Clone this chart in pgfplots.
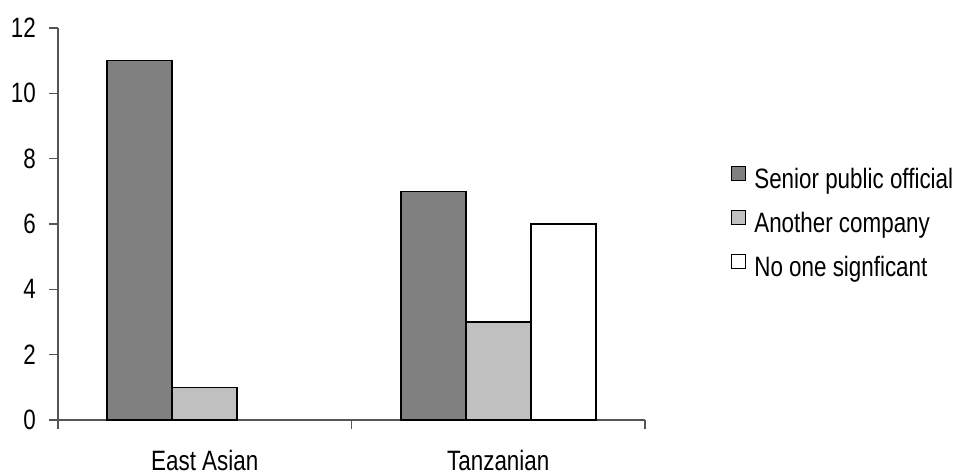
\documentclass[border=0pt]{standalone}
\usepackage{pgfplots}
\pgfplotsset{compat=1.18}
\usepackage{fontspec}
\setmainfont[FakeStretch=0.8]{Liberation Sans}
\definecolor{darkbar}{HTML}{808080}
\definecolor{lightbar}{HTML}{C0C0C0}
\definecolor{axisgray}{HTML}{555555}
\begin{document}
\fontsize{21pt}{24pt}\selectfont
\begin{tikzpicture}
\path[use as bounding box] (0,0) rectangle (720pt,356.25pt);
\begin{axis}[
  at={(43.5pt,41.25pt)}, anchor=south west,
  scale only axis,
  width=440.25pt, height=294pt,
  xmin=-0.5, xmax=1.5, ymin=0, ymax=12,
  axis x line*=bottom, axis y line*=left,
  axis line style={-, draw=axisgray, line width=0.8pt},
  every tick/.style={draw=axisgray, line width=0.8pt},
  tick align=outside,
  major tick length=6.5pt,
  xtick={-0.5,0.5,1.5}, xticklabels={},
  extra x ticks={0,1},
  extra x tick labels={East Asian,Tanzanian},
  extra x tick style={major tick length=0pt},
  ytick={0,2,4,6,8,10,12},
  /pgf/number format/assume math mode=true,
  ticklabel style={font=\fontsize{21pt}{24pt}\selectfont},
  xticklabel style={anchor=north, inner sep=0pt, text height=15pt, text depth=4pt, yshift=-23pt},
  yticklabel style={anchor=east, inner sep=0pt, xshift=-10pt},
  ybar=0pt, bar width=48.75pt,
  legend style={at={(1.1465,0.5)}, anchor=west, draw=none, fill=none,
    inner sep=0pt, row sep=12pt, column sep=6pt,
    nodes={inner sep=0pt, text height=15pt, text depth=4pt, anchor=west},
    font=\fontsize{21pt}{24pt}\selectfont},
  legend cell align=left,
  legend image code/.code={\draw[#1, line width=0.8pt] (0pt,0.5pt) rectangle (10.5pt,11pt);},
]
\addplot[fill=darkbar, draw=black, line width=1.2pt] coordinates {(0,11) (1,7)};
\addplot[fill=lightbar, draw=black, line width=1.2pt] coordinates {(0,1) (1,3)};
\addplot[fill=white, draw=black, line width=1.2pt] coordinates {(1,6)};
\legend{Senior public official, Another company, No one signficant}
\end{axis}
\end{tikzpicture}
\end{document}
